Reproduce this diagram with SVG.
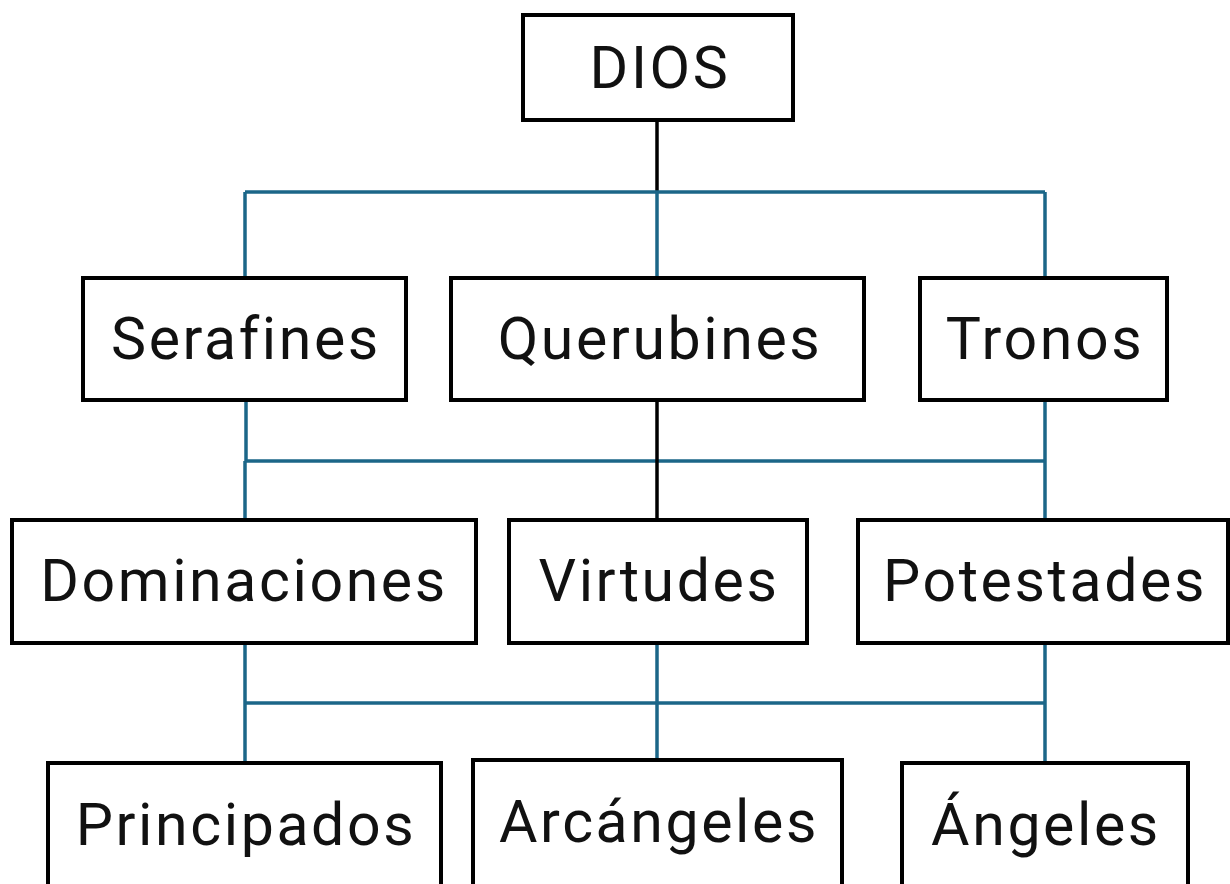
<svg xmlns="http://www.w3.org/2000/svg" width="1230" height="884" viewBox="0 0 1230 884">
<style>
.box{fill:#fff;stroke:#000;stroke-width:4}
.lbl{font-family:Roboto,"Liberation Sans",sans-serif;font-size:59px;fill:#111;text-anchor:middle;letter-spacing:2.6px}
.teal{stroke:#1B6688;stroke-width:3.5;fill:none}
.blk{stroke:#000;stroke-width:3.5;fill:none}
</style>
<rect width="1230" height="884" fill="#fff"/>
<g id="connectors">
<line class="blk" x1="657" y1="120" x2="657" y2="192"/>
<line class="teal" x1="245" y1="192" x2="1045" y2="192"/>
<line class="teal" x1="245" y1="192" x2="245" y2="278"/>
<line class="teal" x1="657" y1="192" x2="657" y2="278"/>
<line class="teal" x1="1045" y1="192" x2="1045" y2="278"/>
<line class="teal" x1="246" y1="400" x2="246" y2="461"/>
<line class="teal" x1="245" y1="461" x2="245" y2="520"/>
<line class="teal" x1="245" y1="461" x2="1045" y2="461"/>
<line class="blk" x1="657" y1="400" x2="657" y2="520"/>
<line class="teal" x1="1045" y1="400" x2="1045" y2="520"/>
<line class="teal" x1="245" y1="643" x2="245" y2="763"/>
<line class="teal" x1="245" y1="703" x2="1045" y2="703"/>
<line class="teal" x1="657" y1="643" x2="657" y2="760"/>
<line class="teal" x1="1045" y1="643" x2="1045" y2="763"/>
</g>
<g id="dios"><rect class="box" x="523" y="15" width="270" height="105"/><text class="lbl" x="660" y="88">DIOS</text></g>
<g id="serafines"><rect class="box" x="83" y="278" width="323" height="122"/><text class="lbl" x="246" y="359">Serafines</text></g>
<g id="querubines"><rect class="box" x="451" y="278" width="413" height="122"/><text class="lbl" x="660" y="359">Querubines</text></g>
<g id="tronos"><rect class="box" x="920" y="278" width="247" height="122"/><text class="lbl" x="1045" y="359">Tronos</text></g>
<g id="dominaciones"><rect class="box" x="12" y="520" width="464" height="123"/><text class="lbl" x="244" y="601">Dominaciones</text></g>
<g id="virtudes"><rect class="box" x="509" y="520" width="298" height="123"/><text class="lbl" x="659" y="601">Virtudes</text></g>
<g id="potestades"><rect class="box" x="858" y="520" width="370" height="123"/><text class="lbl" x="1045" y="601">Potestades</text></g>
<g id="principados"><rect class="box" x="48" y="763" width="393" height="130"/><text class="lbl" x="246" y="845">Principados</text></g>
<g id="arcangeles"><rect class="box" x="473" y="760" width="369" height="130"/><text class="lbl" x="659" y="842">Arcángeles</text></g>
<g id="angeles"><rect class="box" x="902" y="763" width="286" height="130"/><text class="lbl" x="1046" y="845">Ángeles</text></g>
</svg>
